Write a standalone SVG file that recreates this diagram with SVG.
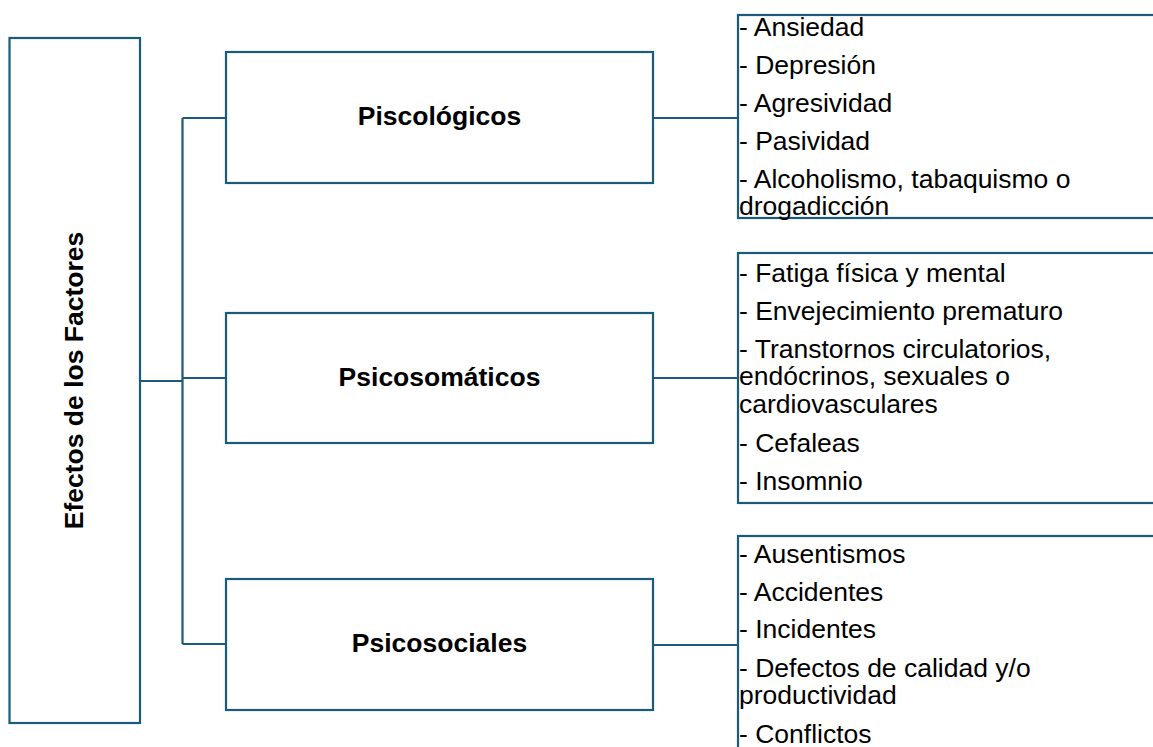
<svg xmlns="http://www.w3.org/2000/svg" width="1153" height="747" viewBox="0 0 1153 747">
<style>
.box{fill:#ffffff;stroke:#1c5a79;stroke-width:2.2}
.ln{fill:none;stroke:#1c5a79;stroke-width:2.2}
.t{font-family:"Liberation Sans",Arial,sans-serif;font-size:26.5px;font-weight:bold;fill:#000;text-anchor:middle}
.l{font-family:"Liberation Sans",Arial,sans-serif;font-size:26.5px;fill:#000}
</style>
<rect width="1153" height="747" fill="#ffffff"/>
<g id="connectors">
<polyline class="ln" points="182.5,118 182.5,644"/>
<polyline class="ln" points="140,381 182.5,381"/>
<polyline class="ln" points="182.5,118 226,118"/>
<polyline class="ln" points="182.5,378 226,378"/>
<polyline class="ln" points="182.5,644 226,644"/>
<polyline class="ln" points="653,118 738,118"/>
<polyline class="ln" points="653,378 738,378"/>
<polyline class="ln" points="653,645 738,645"/>
</g>
<g id="root">
<rect class="box" x="9.5" y="38" width="130.5" height="685"/>
<text class="t" transform="translate(83,380.5) rotate(-90)" x="0" y="0">Efectos de los Factores</text>
</g>
<g id="psicologicos">
<rect class="box" x="226" y="52" width="427" height="131"/>
<text class="t" x="439.5" y="125">Piscológicos</text>
</g>
<g id="psicosomaticos">
<rect class="box" x="226" y="313" width="427" height="130"/>
<text class="t" x="439.5" y="386">Psicosomáticos</text>
</g>
<g id="psicosociales">
<rect class="box" x="226" y="579" width="427" height="131"/>
<text class="t" x="439.5" y="652">Psicosociales</text>
</g>
<g id="lista-psicologicos">
<rect class="box" x="738" y="15" width="430" height="203"/>
<text class="l" x="739" y="36">- Ansiedad</text>
<text class="l" x="739" y="74">- Depresión</text>
<text class="l" x="739" y="112">- Agresividad</text>
<text class="l" x="739" y="150">- Pasividad</text>
<text class="l" x="739" y="188">- Alcoholismo, tabaquismo o</text>
<text class="l" x="739" y="215">drogadicción</text>
</g>
<g id="lista-psicosomaticos">
<rect class="box" x="738" y="253" width="430" height="250"/>
<text class="l" x="739" y="282">- Fatiga física y mental</text>
<text class="l" x="739" y="320">- Envejecimiento prematuro</text>
<text class="l" x="739" y="358">- Transtornos circulatorios,</text>
<text class="l" x="739" y="385">endócrinos, sexuales o</text>
<text class="l" x="739" y="413">cardiovasculares</text>
<text class="l" x="739" y="452">- Cefaleas</text>
<text class="l" x="739" y="490">- Insomnio</text>
</g>
<g id="lista-psicosociales">
<rect class="box" x="738" y="536" width="430" height="230"/>
<text class="l" x="739" y="563">- Ausentismos</text>
<text class="l" x="739" y="601">- Accidentes</text>
<text class="l" x="739" y="638">- Incidentes</text>
<text class="l" x="739" y="677">- Defectos de calidad y/o</text>
<text class="l" x="739" y="704">productividad</text>
<text class="l" x="739" y="743">- Conflictos</text>
</g>
</svg>
